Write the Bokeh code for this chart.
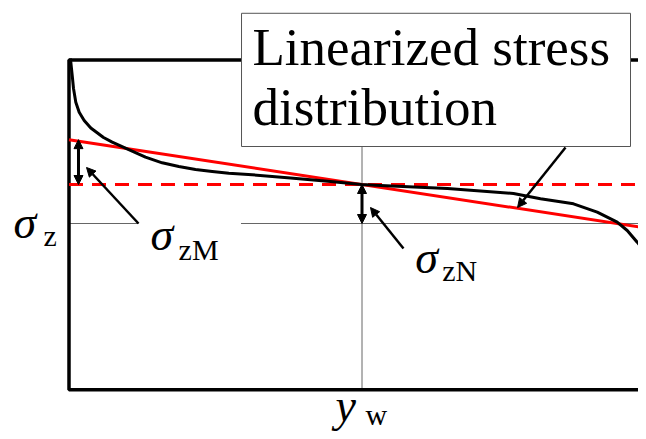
from bokeh.plotting import figure
from bokeh.models import Range1d, Arrow, NormalHead
from bokeh.embed import file_html
from bokeh.resources import INLINE
from bokeh.core.properties import value

# Actual stress distribution through the wall (normalized position, stress units)
pos = [0.0022, 0.0031, 0.0060, 0.0077, 0.0116, 0.0174, 0.0259, 0.0372, 0.0452,
       0.0589, 0.0737, 0.1020, 0.1305, 0.1590, 0.1874, 0.2159, 0.2444, 0.2727,
       0.3126, 0.3780, 0.4462, 0.4991, 0.5316, 0.6459, 0.7585, 0.8046, 0.8609,
       0.9014, 0.9355, 0.9526, 0.9696, 0.9809, 0.9923]
stress = [4.23, 4.136, 3.718, 3.462, 3.110, 2.854, 2.641, 2.449, 2.359,
          2.205, 2.085, 1.897, 1.700, 1.556, 1.462, 1.385, 1.333, 1.290,
          1.249, 1.167, 1.077, 1.000, 0.974, 0.897, 0.769, 0.633, 0.505,
          0.290, 0.033, -0.179, -0.479, -0.692, -1.000]

sigma_N = 1.0    # membrane stress
sigma_M = 1.15   # bending stress
wall = [0.0, 1.0]
lin = [sigma_N + sigma_M, sigma_N - sigma_M]

frame_top = 4.19
frame_bottom = -4.26
x_right = 1.05

FONT = value("Liberation Serif")

p = figure(width=638, height=431, output_backend="svg", toolbar_location=None,
           x_range=Range1d((0 - 68.5) / 586, (638 - 68.5) / 586),
           y_range=Range1d((223 - 431) / 39, (223 - 0) / 39),
           min_border=0, outline_line_color=None)
p.xaxis.visible = False
p.yaxis.visible = False
p.grid.visible = False
p.background_fill_color = "white"
p.border_fill_color = "white"

# thin reference lines
p.line([0.5, 0.5], [frame_bottom, frame_top], line_color="#666666", line_width=1)
p.line([0.0, 0.1186], [0, 0], line_color="#666666", line_width=1)
p.line([0.2935, x_right], [0, 0], line_color="#666666", line_width=1)

# frame
p.line([x_right, 0, 0, x_right], [frame_top, frame_top, frame_bottom, frame_bottom],
       line_color="black", line_width=3.5)

# membrane (dashed) and linearized stress
p.line(wall, [sigma_N, sigma_N], line_color="#ff0000", line_width=3, line_dash="14 9")
p.line(wall, lin, line_color="#ff0000", line_width=3)

# actual stress distribution
p.line(pos, stress, line_color="black", line_width=3, line_join="round")

def arrow(x0, y0, x1, y1, both=False, lw=2):
    head = lambda: NormalHead(size=9, fill_color="black", line_color="black", line_width=1)
    p.add_layout(Arrow(x_start=x0, y_start=y0, x_end=x1, y_end=y1,
                       start=head() if both else None, end=head(),
                       line_color="black", line_width=lw))

# double arrows for the stress components
arrow(0.0162, sigma_N, 0.0162, sigma_N + sigma_M, both=True, lw=3)
arrow(0.5, 0.0, 0.5, sigma_N, both=True, lw=3)

# leader arrows
arrow(0.1186, 0.0, 0.0299, 1.436, lw=2.5)
arrow(0.5708, -0.641, 0.5145, 0.410, lw=2.5)
arrow(0.8473, 1.949, 0.7654, 0.410, lw=2.5)

# label box
p.quad(left=[0.2944], right=[0.9582], top=[5.39], bottom=[1.974],
       fill_color="white", line_color="#555555", line_width=1)
p.text(x=[0.3131, 0.3131], y=[4.0, 2.436], text=["Linearized stress", "distribution"],
       text_font=FONT, text_font_size="53px", text_color="black",
       text_baseline="alphabetic", text_align="left", y_offset=-21)

def sym(x, y, main, sub, xs, ys, italic_sub=False):
    p.text(x=[x], y=[y], text=[main], text_font=FONT, text_font_size="46px",
           text_font_style="italic", text_color="black",
           text_baseline="alphabetic", text_align="left", y_offset=-11)
    p.text(x=[xs], y=[ys], text=[sub], text_font=FONT, text_font_size="30px",
           text_font_style="italic" if italic_sub else "normal", text_color="black",
           text_baseline="alphabetic", text_align="left", y_offset=-8)

sym(-0.0947, -0.256, "σ", "z", -0.0435, -0.513)
sym(0.139, -0.564, "σ", "zM", 0.187, -0.872)
sym(0.591, -1.154, "σ", "zN", 0.637, -1.41)
sym(0.4548, -4.95, "y", "w", 0.506, -5.10)

open("out.html", "w").write(file_html(p, INLINE))
